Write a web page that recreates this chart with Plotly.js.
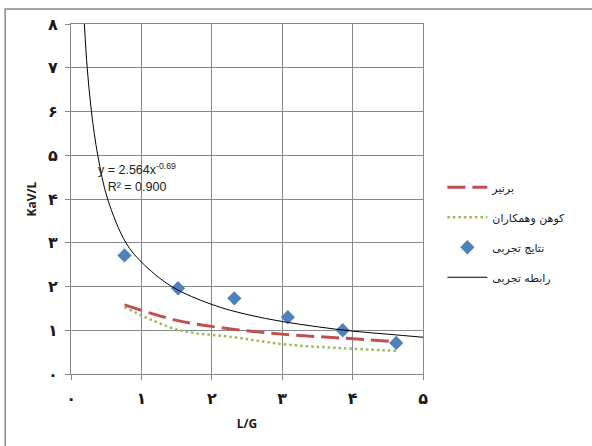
<!DOCTYPE html>
<html>
<head>
<meta charset="utf-8">
<script src="https://cdn.plot.ly/plotly-3.0.1.min.js"></script>
<style>html,body{margin:0;padding:0;background:#fff;}#chart{width:592px;height:446px;}</style>
</head>
<body>
<div id="chart"></div>
<script>
// Experimental points (L/G, KaV/L)
const expX = [0.76, 1.52, 2.32, 3.08, 3.86, 4.62];
const expY = [2.71, 1.96, 1.73, 1.30, 1.00, 0.71];
// Bernier (red dashed)
const bernierY = [1.58, 1.22, 1.02, 0.90, 0.82, 0.74];
// Cohen et al. (green dotted)
const cohenY = [1.53, 1.01, 0.84, 0.67, 0.59, 0.53];
const fitX = [0.19, 0.23, 0.29, 0.38, 0.52, 0.78, 1.0, 1.43, 2.0, 2.5, 3.0, 3.5, 4.0, 4.5, 5.0];
const fitY = [8.0, 7.0, 6.0, 5.0, 4.0, 3.0, 2.56, 2.0, 1.59, 1.36, 1.20, 1.08, 0.98, 0.91, 0.84];
// Tick labels (Persian digits)
const xTickVals = [0, 1, 2, 3, 4, 5];
const xTickText = ['۰', '۱', '۲', '۳', '۴', '۵'];
const yTickVals = [0, 1, 2, 3, 4, 5, 6, 7, 8];
const yTickText = ['۰', '۱', '۲', '۳', '۴', '۵', '۶', '۷', '۸'];
// Legend names
const names = ['برنیر', 'کوهن وهمکاران', 'نتایج تجربی', 'رابطه تجربی'];

const traces = [
  {x: expX, y: bernierY, mode: 'lines', name: names[0], legendgroup: 'a',
   line: {color: '#C0504D', width: 3, dash: '18px,7px', shape: 'spline'}},
  {x: expX, y: cohenY, mode: 'lines', name: names[1], legendgroup: 'b',
   line: {color: '#9BBB59', width: 2.5, dash: '2.5px,3px', shape: 'spline'}},
  {x: expX, y: expY, mode: 'markers', name: names[2], legendgroup: 'c',
   marker: {symbol: 'diamond', size: 11, color: '#4F81BD'}},
  {x: fitX, y: fitY, mode: 'lines', name: names[3], legendgroup: 'd',
   line: {color: '#000000', width: 1, shape: 'spline'}}
];

const gridColor = '#878787';
const tickFont = {family: 'DejaVu Sans', size: 16, color: '#1a1a1a', weight: 'bold'};

const layout = {
  width: 592, height: 446,
  margin: {l: 70.6, r: 169.4, t: 24, b: 71.5, pad: 0},
  paper_bgcolor: '#ffffff', plot_bgcolor: '#ffffff',
  showlegend: true,
  legend: {x: 1.055, xanchor: 'left', y: 0.575, yanchor: 'top',
           traceorder: 'grouped', tracegroupgap: 11, itemwidth: 40,
           font: {family: 'DejaVu Sans', size: 11, color: '#1a1a1a'},
           bgcolor: 'rgba(0,0,0,0)'},
  xaxis: {range: [0, 5], tickvals: xTickVals, ticktext: xTickText,
          showgrid: true, gridcolor: gridColor, gridwidth: 1,
          showline: true, linecolor: gridColor, linewidth: 1, mirror: true,
          zeroline: false, ticks: 'outside', ticklen: 5, tickcolor: gridColor,
          ticklabelstandoff: 5, tickfont: tickFont,
          title: {text: 'L/G', font: {family: 'Open Sans', size: 12, color: '#1a1a1a', weight: 'bold'}, standoff: 12}},
  yaxis: {range: [0, 8], tickvals: yTickVals, ticktext: yTickText,
          showgrid: true, gridcolor: gridColor, gridwidth: 1,
          showline: true, linecolor: gridColor, linewidth: 1, mirror: true,
          zeroline: false, ticks: 'outside', ticklen: 5, tickcolor: gridColor,
          ticklabelstandoff: 4, tickfont: tickFont,
          title: {text: 'KaV/L', font: {family: 'Open Sans', size: 12, color: '#1a1a1a', weight: 'bold'}, standoff: 8}},
  annotations: [{
    x: 0.94, y: 4.5, xref: 'x', yref: 'y', showarrow: false,
    text: 'y = 2.564x<sup>-0.69</sup><br>R² = 0.900',
    font: {family: 'Liberation Sans', size: 12.5, color: '#222222'}, align: 'center'
  }],
  shapes: [{
    type: 'rect', xref: 'paper', yref: 'paper', layer: 'above',
    x0: -0.187, x1: 1.7, y0: -0.3, y1: 1.043,
    line: {color: '#8a8a8a', width: 1.5}, fillcolor: 'rgba(0,0,0,0)'
  }]
};

Plotly.newPlot('chart', traces, layout, {displayModeBar: false, staticPlot: true});
</script>
</body>
</html>
